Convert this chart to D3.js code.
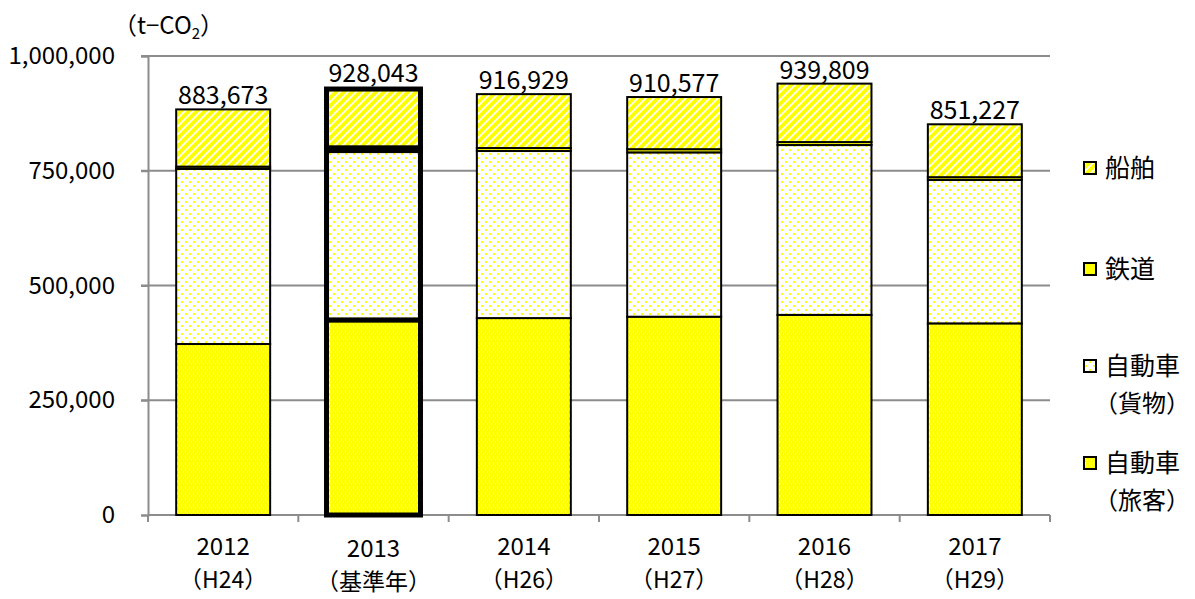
<!DOCTYPE html>
<html>
<head>
<meta charset="utf-8">
<script src="https://cdn.jsdelivr.net/npm/d3@7"></script>
<style>
  body { margin: 0; background: #fff; }
  svg text { font-family: "Noto Sans CJK JP", "Noto Sans", sans-serif; fill: #000; }
</style>
</head>
<body>
<svg id="chart" width="1195" height="599"></svg>
<script>
// data (t-CO2)
var years = ["2012", "2013", "2014", "2015", "2016", "2017"];
var yearSub = ["（H24）", "（基準年）", "（H26）", "（H27）", "（H28）", "（H29）"];
var passenger = [372500, 425000, 429000, 432000, 436000, 417500]; // 自動車（旅客）
var freight   = [381500, 369000, 364000, 358000, 370000, 312500]; // 自動車（貨物）
var rail      = [5000, 6000, 6500, 7000, 6500, 6000];             // 鉄道
var ship      = [124673, 128043, 117429, 113577, 127309, 115227]; // 船舶
var totals    = [883673, 928043, 916929, 910577, 939809, 851227];
var yTicks = [0, 250000, 500000, 750000, 1000000];
var baseYear = "2013";

var keys = ["passenger", "freight", "rail", "ship"];
var rows = years.map(function(y, i) {
  return { year: y, passenger: passenger[i], freight: freight[i], rail: rail[i], ship: ship[i] };
});

var svg = d3.select("#chart");
var YEL = "#ffff00";

/* patterns */
var defs = svg.append("defs");
var p1 = defs.append("pattern").attr("id", "pat-passenger").attr("patternUnits", "userSpaceOnUse")
  .attr("width", 4).attr("height", 6).attr("shape-rendering", "crispEdges");
p1.append("rect").attr("width", 4).attr("height", 6).attr("fill", YEL);
p1.append("rect").attr("x", 1).attr("y", 0).attr("width", 1).attr("height", 3).attr("fill", "#fff");
p1.append("rect").attr("x", 3).attr("y", 3).attr("width", 1).attr("height", 2).attr("fill", "#fff");

var p2 = defs.append("pattern").attr("id", "pat-freight").attr("patternUnits", "userSpaceOnUse")
  .attr("width", 8).attr("height", 8).attr("shape-rendering", "crispEdges");
p2.append("rect").attr("width", 8).attr("height", 8).attr("fill", "#fff");
p2.append("rect").attr("x", 1).attr("y", 1).attr("width", 2).attr("height", 2).attr("fill", YEL);
p2.append("rect").attr("x", 5).attr("y", 5).attr("width", 2).attr("height", 2).attr("fill", YEL);

var p4 = defs.append("pattern").attr("id", "pat-ship").attr("patternUnits", "userSpaceOnUse")
  .attr("width", 8).attr("height", 8);
p4.append("rect").attr("width", 8).attr("height", 8).attr("fill", YEL);
p4.append("path").attr("d", "M0,8 L8,0 M-2,2 L2,-2 M6,10 L10,6")
  .attr("stroke", "#fff").attr("stroke-width", 1.8);

var fills = { passenger: "url(#pat-passenger)", freight: "url(#pat-freight)", rail: YEL, ship: "url(#pat-ship)" };

/* scales */
var x = d3.scaleBand().domain(years).range([148, 1050]).paddingInner(0.375).paddingOuter(0.1875);
var y = d3.scaleLinear().domain([0, 1000000]).range([515, 56]);

/* grid */
svg.append("g").selectAll("line").data(yTicks.slice(1)).enter().append("line")
  .attr("x1", 141).attr("x2", 1050)
  .attr("y1", function(d) { return y(d); }).attr("y2", function(d) { return y(d); })
  .attr("stroke", "#8c8c8c").attr("stroke-width", 2);

/* y axis */
var yAxis = d3.axisLeft(y).tickValues(yTicks).tickSize(7).tickPadding(26)
  .tickFormat(d3.format(","));
var gy = svg.append("g").attr("transform", "translate(148,0)").call(yAxis);
gy.select(".domain").attr("stroke", "#8c8c8c").attr("stroke-width", 2);
gy.selectAll(".tick line").attr("stroke", "#8c8c8c").attr("stroke-width", 2);
gy.selectAll(".tick text").attr("font-size", 24).style("font-family", "'Noto Sans CJK JP'");

/* x axis line + boundary ticks */
svg.append("line").attr("x1", 148).attr("x2", 1050).attr("y1", y(0)).attr("y2", y(0))
  .attr("stroke", "#8c8c8c").attr("stroke-width", 2);
var step = x.step();
svg.append("g").selectAll("line").data(d3.range(years.length + 1)).enter().append("line")
  .attr("x1", function(i) { return 148 + i * step; })
  .attr("x2", function(i) { return 148 + i * step; })
  .attr("y1", y(0)).attr("y2", y(0) + 7)
  .attr("stroke", "#8c8c8c").attr("stroke-width", 2);

/* stacked bars */
var stack = d3.stack().keys(keys)(rows);
var layers = svg.append("g").selectAll("g").data(stack).enter().append("g")
  .attr("fill", function(d) { return fills[d.key]; });
layers.selectAll("rect").data(function(d) { return d; }).enter().append("rect")
  .attr("x", function(d) { return x(d.data.year); })
  .attr("width", x.bandwidth())
  .attr("y", function(d) { return y(d[1]); })
  .attr("height", function(d) { return y(d[0]) - y(d[1]); })
  .attr("stroke", "#000")
  .attr("stroke-width", function(d) { return d.data.year === baseYear ? 5 : 2; });

/* totals */
svg.append("g").selectAll("text").data(years).enter().append("text")
  .attr("x", function(d) { return x(d) + x.bandwidth() / 2; })
  .attr("y", function(d, i) { return y(totals[i]) - (years[i] === baseYear ? 7 : 5); })
  .attr("text-anchor", "middle").attr("font-size", 25)
  .text(function(d, i) { return d3.format(",")(totals[i]); });

/* category labels */
var xl = svg.append("g").selectAll("g").data(years).enter().append("g")
  .attr("transform", function(d) {
    return "translate(" + (x(d) + x.bandwidth() / 2) + "," + (d === baseYear ? 2 : 0) + ")";
  });
xl.append("text").attr("y", 555).attr("text-anchor", "middle").attr("font-size", 24)
  .text(function(d) { return d; });
xl.append("text").attr("y", 588).attr("text-anchor", "middle").attr("font-size", 23)
  .text(function(d, i) { return yearSub[i]; });

/* unit label */
var unit = svg.append("text").attr("x", 113).attr("y", 34).attr("font-size", 24);
unit.append("tspan").text("（t−CO");
unit.append("tspan").attr("font-size", 15).attr("dy", 5).text("2");
unit.append("tspan").attr("dy", -5).text("）");

/* legend */
var legend = [
  { key: "ship", lines: ["船舶"], cy: 168 },
  { key: "rail", lines: ["鉄道"], cy: 269 },
  { key: "freight", lines: ["自動車", "（貨物）"], cy: 366 },
  { key: "passenger", lines: ["自動車", "（旅客）"], cy: 463 }
];
var lg = svg.append("g").selectAll("g").data(legend).enter().append("g");
lg.append("rect").attr("x", 1084).attr("y", function(d) { return d.cy - 6; })
  .attr("width", 12).attr("height", 12)
  .attr("fill", function(d) { return fills[d.key]; })
  .attr("stroke", "#000").attr("stroke-width", 2);
lg.each(function(d) {
  var g = d3.select(this);
  d.lines.forEach(function(t, j) {
    g.append("text").attr("x", j === 0 ? 1105 : 1094).attr("y", d.cy + 9 + j * 37)
      .attr("font-size", j === 0 ? 25 : 24).text(t);
  });
});
</script>
</body>
</html>
